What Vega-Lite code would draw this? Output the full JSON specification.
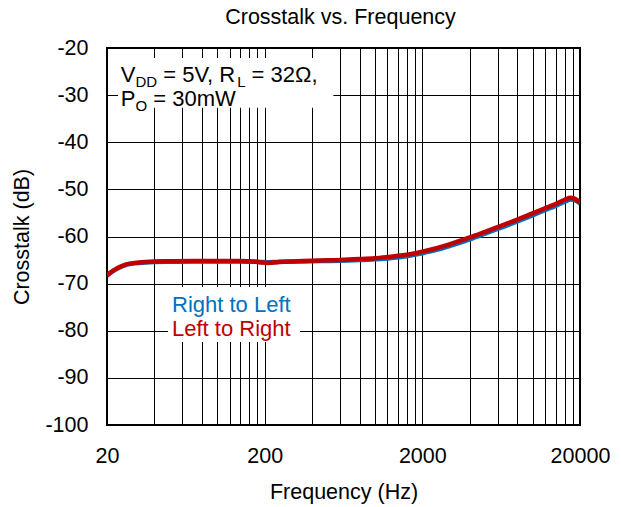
{
  "$schema": "https://vega.github.io/schema/vega-lite/v6.json",
  "width": 473,
  "height": 377,
  "autosize": {"type": "none"},
  "padding": {"left": 107, "top": 48, "right": 41, "bottom": 82},
  "background": "white",
  "title": {"text": "Crosstalk vs. Frequency", "fontSize": 21.5, "fontWeight": "normal", "color": "black", "font": "Liberation Sans", "offset": -8, "baseline": "alphabetic", "dx": -3},
  "config": {
    "view": {"stroke": "black", "strokeWidth": 2},
    "font": "Liberation Sans",
    "text": {"font": "Liberation Sans"}
  },
  "datasets": {
    "crosstalk": [
      {"freq": 20, "value": -68.3, "series": "Right to Left"},
      {"freq": 22, "value": -67.3, "series": "Right to Left"},
      {"freq": 24, "value": -66.6, "series": "Right to Left"},
      {"freq": 26, "value": -66.1, "series": "Right to Left"},
      {"freq": 28, "value": -65.85, "series": "Right to Left"},
      {"freq": 30, "value": -65.7, "series": "Right to Left"},
      {"freq": 35, "value": -65.5, "series": "Right to Left"},
      {"freq": 40, "value": -65.4, "series": "Right to Left"},
      {"freq": 50, "value": -65.35, "series": "Right to Left"},
      {"freq": 70, "value": -65.3, "series": "Right to Left"},
      {"freq": 100, "value": -65.3, "series": "Right to Left"},
      {"freq": 140, "value": -65.3, "series": "Right to Left"},
      {"freq": 170, "value": -65.35, "series": "Right to Left"},
      {"freq": 190, "value": -65.4, "series": "Right to Left"},
      {"freq": 210, "value": -65.45, "series": "Right to Left"},
      {"freq": 240, "value": -65.4, "series": "Right to Left"},
      {"freq": 280, "value": -65.35, "series": "Right to Left"},
      {"freq": 350, "value": -65.3, "series": "Right to Left"},
      {"freq": 450, "value": -65.2, "series": "Right to Left"},
      {"freq": 600, "value": -65.15, "series": "Right to Left"},
      {"freq": 800, "value": -65.0, "series": "Right to Left"},
      {"freq": 1000, "value": -64.85, "series": "Right to Left"},
      {"freq": 1200, "value": -64.65, "series": "Right to Left"},
      {"freq": 1500, "value": -64.3, "series": "Right to Left"},
      {"freq": 2000, "value": -63.55, "series": "Right to Left"},
      {"freq": 2500, "value": -62.8, "series": "Right to Left"},
      {"freq": 3000, "value": -62.0, "series": "Right to Left"},
      {"freq": 4000, "value": -60.6, "series": "Right to Left"},
      {"freq": 5000, "value": -59.4, "series": "Right to Left"},
      {"freq": 6000, "value": -58.4, "series": "Right to Left"},
      {"freq": 8000, "value": -56.8, "series": "Right to Left"},
      {"freq": 10000, "value": -55.5, "series": "Right to Left"},
      {"freq": 12000, "value": -54.4, "series": "Right to Left"},
      {"freq": 14000, "value": -53.5, "series": "Right to Left"},
      {"freq": 16000, "value": -52.6, "series": "Right to Left"},
      {"freq": 17500, "value": -52.15, "series": "Right to Left"},
      {"freq": 19000, "value": -52.45, "series": "Right to Left"},
      {"freq": 20000, "value": -53.0, "series": "Right to Left"},
      {"freq": 20, "value": -68.2, "series": "Left to Right"},
      {"freq": 22, "value": -67.2, "series": "Left to Right"},
      {"freq": 24, "value": -66.5, "series": "Left to Right"},
      {"freq": 26, "value": -66.0, "series": "Left to Right"},
      {"freq": 28, "value": -65.75, "series": "Left to Right"},
      {"freq": 30, "value": -65.6, "series": "Left to Right"},
      {"freq": 35, "value": -65.4, "series": "Left to Right"},
      {"freq": 40, "value": -65.3, "series": "Left to Right"},
      {"freq": 50, "value": -65.25, "series": "Left to Right"},
      {"freq": 70, "value": -65.2, "series": "Left to Right"},
      {"freq": 100, "value": -65.2, "series": "Left to Right"},
      {"freq": 140, "value": -65.2, "series": "Left to Right"},
      {"freq": 170, "value": -65.3, "series": "Left to Right"},
      {"freq": 190, "value": -65.5, "series": "Left to Right"},
      {"freq": 210, "value": -65.6, "series": "Left to Right"},
      {"freq": 240, "value": -65.45, "series": "Left to Right"},
      {"freq": 280, "value": -65.3, "series": "Left to Right"},
      {"freq": 350, "value": -65.2, "series": "Left to Right"},
      {"freq": 450, "value": -65.1, "series": "Left to Right"},
      {"freq": 600, "value": -65.0, "series": "Left to Right"},
      {"freq": 800, "value": -64.8, "series": "Left to Right"},
      {"freq": 1000, "value": -64.6, "series": "Left to Right"},
      {"freq": 1200, "value": -64.35, "series": "Left to Right"},
      {"freq": 1500, "value": -64.0, "series": "Left to Right"},
      {"freq": 2000, "value": -63.2, "series": "Left to Right"},
      {"freq": 2500, "value": -62.4, "series": "Left to Right"},
      {"freq": 3000, "value": -61.6, "series": "Left to Right"},
      {"freq": 4000, "value": -60.2, "series": "Left to Right"},
      {"freq": 5000, "value": -59.0, "series": "Left to Right"},
      {"freq": 6000, "value": -58.0, "series": "Left to Right"},
      {"freq": 8000, "value": -56.4, "series": "Left to Right"},
      {"freq": 10000, "value": -55.1, "series": "Left to Right"},
      {"freq": 12000, "value": -54.0, "series": "Left to Right"},
      {"freq": 14000, "value": -53.1, "series": "Left to Right"},
      {"freq": 16000, "value": -52.2, "series": "Left to Right"},
      {"freq": 17500, "value": -51.8, "series": "Left to Right"},
      {"freq": 19000, "value": -52.2, "series": "Left to Right"},
      {"freq": 20000, "value": -52.8, "series": "Left to Right"}
    ],
    "legendItems": [
      {"series": "Right to Left", "row": 0},
      {"series": "Left to Right", "row": 1}
    ]
  },
  "layer": [
    {
      "data": {"name": "crosstalk"},
      "transform": [{"filter": "datum.series == 'Right to Left'"}],
      "mark": {"type": "line", "strokeWidth": 4.5, "interpolate": "monotone", "clip": true},
      "encoding": {
        "x": {
          "field": "freq", "type": "quantitative",
          "scale": {"type": "log", "domain": [20, 20000], "nice": false},
          "axis": {
            "values": [20, 40, 60, 80, 100, 120, 140, 160, 180, 200, 400, 600, 800, 1000, 1200, 1400, 1600, 1800, 2000, 4000, 6000, 8000, 10000, 12000, 14000, 16000, 18000, 20000],
            "labelExpr": "(datum.value == 20 || datum.value == 200 || datum.value == 2000 || datum.value == 20000) ? '' + datum.value : ''",
            "labelOverlap": false,
            "labelFlush": false,
            "grid": true, "gridColor": "black", "gridWidth": 1, "gridOpacity": 1,
            "ticks": false, "domain": false,
            "labelFontSize": 21.5, "labelColor": "black", "labelPadding": 20,
            "title": "Frequency (Hz)", "titleFontSize": 21.5, "titleFontWeight": "normal", "titleColor": "black", "titlePadding": 15
          }
        },
        "y": {
          "field": "value", "type": "quantitative",
          "scale": {"domain": [-100, -20], "nice": false},
          "axis": {
            "values": [-100, -90, -80, -70, -60, -50, -40, -30, -20],
            "labelExpr": "'' + datum.value",
            "grid": true, "gridColor": "black", "gridWidth": 1, "gridOpacity": 1,
            "ticks": false, "domain": false,
            "labelFontSize": 21.5, "labelColor": "black", "labelPadding": 19,
            "title": "Crosstalk (dB)", "titleFontSize": 21.5, "titleFontWeight": "normal", "titleColor": "black", "titlePadding": 11
          }
        },
        "color": {
          "field": "series", "type": "nominal",
          "scale": {"domain": ["Right to Left", "Left to Right"], "range": ["#0070C0", "#C00000"]},
          "legend": null
        }
      }
    },
    {
      "data": {"name": "crosstalk"},
      "transform": [{"filter": "datum.series == 'Left to Right'"}],
      "mark": {"type": "line", "strokeWidth": 4.5, "interpolate": "monotone", "clip": true},
      "encoding": {
        "x": {"field": "freq", "type": "quantitative"},
        "y": {"field": "value", "type": "quantitative"},
        "color": {"field": "series", "type": "nominal"}
      }
    },
    {
      "data": {"values": [{}]},
      "mark": {"type": "rect", "color": "white"},
      "encoding": {
        "x": {"datum": 23.5},
        "x2": {"datum": 545},
        "y": {"datum": -22.1},
        "y2": {"datum": -32.7}
      }
    },
    {
      "data": {"values": [{}]},
      "layer": [
        {"mark": {"type": "text", "text": "V", "fontSize": 22, "align": "left", "baseline": "alphabetic", "color": "black", "dx": 0}},
        {"mark": {"type": "text", "text": "DD", "fontSize": 15, "align": "left", "baseline": "alphabetic", "color": "black", "dx": 14.7, "dy": 5}},
        {"mark": {"type": "text", "text": "= 5V, R", "fontSize": 22, "align": "left", "baseline": "alphabetic", "color": "black", "dx": 42.5}},
        {"mark": {"type": "text", "text": "L", "fontSize": 15, "align": "left", "baseline": "alphabetic", "color": "black", "dx": 116.5, "dy": 5}},
        {"mark": {"type": "text", "text": "= 32Ω,", "fontSize": 22, "align": "left", "baseline": "alphabetic", "color": "black", "dx": 130.9}}
      ],
      "encoding": {
        "x": {"datum": 24.43},
        "y": {"datum": -27.2}
      }
    },
    {
      "data": {"values": [{}]},
      "layer": [
        {"mark": {"type": "text", "text": "P", "fontSize": 22, "align": "left", "baseline": "alphabetic", "color": "black", "dx": 0}},
        {"mark": {"type": "text", "text": "O", "fontSize": 15, "align": "left", "baseline": "alphabetic", "color": "black", "dx": 14.7, "dy": 5}},
        {"mark": {"type": "text", "text": "= 30mW", "fontSize": 22, "align": "left", "baseline": "alphabetic", "color": "black", "dx": 32.5}}
      ],
      "encoding": {
        "x": {"datum": 24.43},
        "y": {"datum": -32.3}
      }
    },
    {
      "data": {"values": [{}]},
      "mark": {"type": "rect", "color": "white"},
      "encoding": {
        "x": {"datum": 48.7},
        "x2": {"datum": 335},
        "y": {"datum": -70.7},
        "y2": {"datum": -82.4}
      }
    },
    {
      "data": {"name": "legendItems"},
      "mark": {"type": "text", "fontSize": 22, "align": "left", "baseline": "alphabetic"},
      "encoding": {
        "x": {"datum": 51.7},
        "y": {"datum": -76.1},
        "yOffset": {"field": "row", "type": "quantitative", "scale": {"domain": [0, 1], "range": [0, 24]}},
        "text": {"field": "series"},
        "color": {"field": "series", "type": "nominal"}
      }
    }
  ]
}
